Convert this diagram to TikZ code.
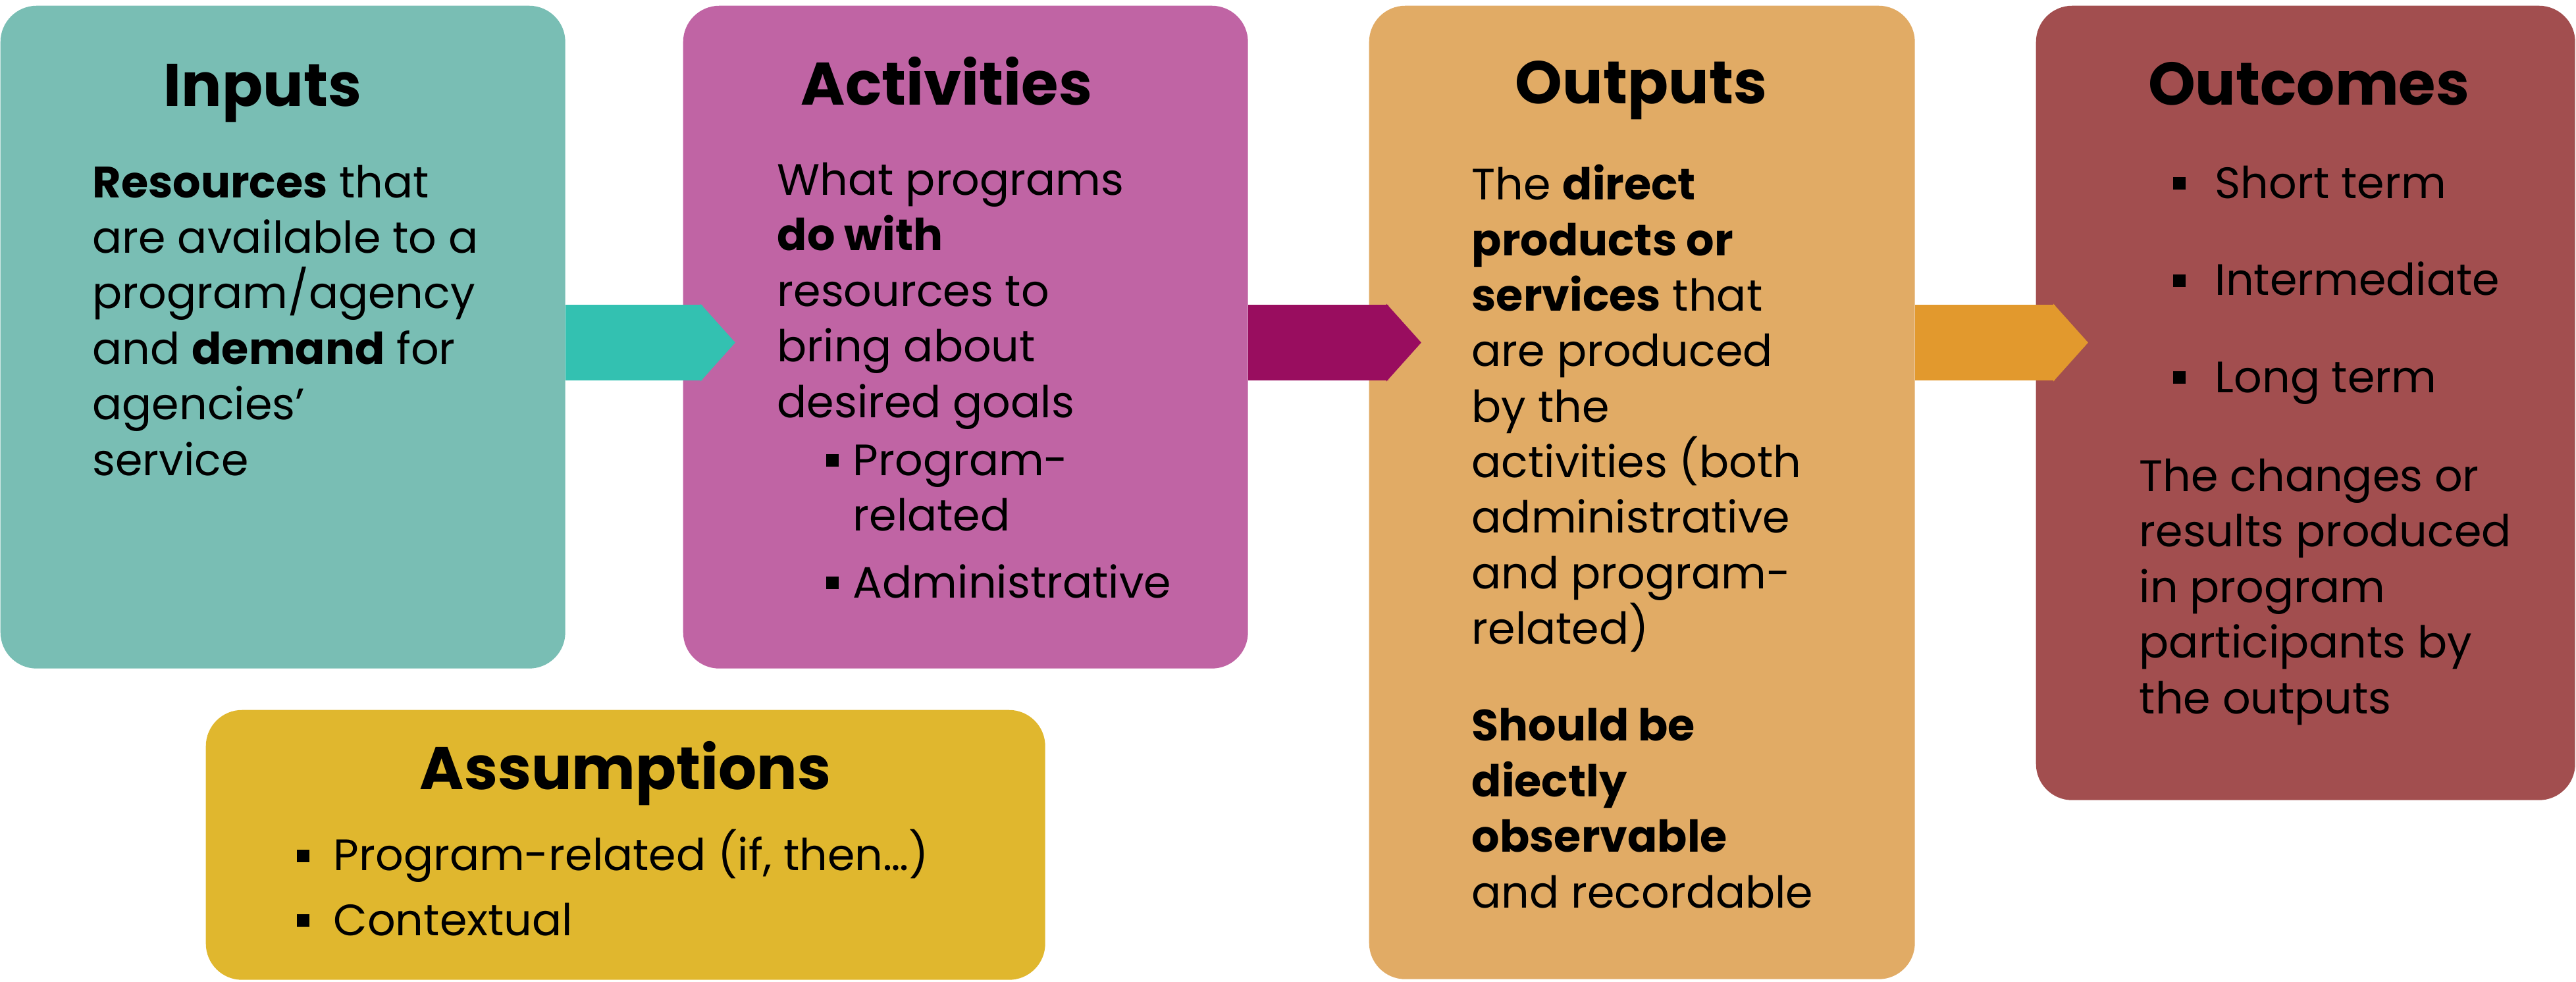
\documentclass[tikz,border=0pt]{standalone}
\usepackage{fontspec}
\setmainfont{Poppins}
\usetikzlibrary{arrows.meta}

\definecolor{inputcol}{HTML}{79BEB4}
\definecolor{inputarrow}{HTML}{33C1B1}
\definecolor{activitycol}{HTML}{C064A4}
\definecolor{activityarrow}{HTML}{990D5F}
\definecolor{outputcol}{HTML}{E1AB65}
\definecolor{outputarrow}{HTML}{E2992D}
\definecolor{outcomecol}{HTML}{A24E4F}
\definecolor{assumecol}{HTML}{E0B72E}

% small square bullet, #1 = room up to the text
\newcommand{\bul}[1][0.41cm]{\makebox[#1][l]{\raisebox{0.13cm}{\rule{0.19cm}{0.19cm}}}}

\begin{document}
\begin{tikzpicture}[
    box/.style = {rounded corners=0.55cm, inner sep=0, anchor=north west},
    heading/.style = {anchor=base, inner sep=0, font=\fontsize{26}{31}\selectfont\bfseries},
    body/.style = {anchor=base west, inner sep=0, align=left, font=\fontsize{19}{24}\selectfont},
    flow/.style = {line width=1.15cm, shorten >=-0.8cm, -{Triangle[length=0.53cm, width=1.15cm]}}
  ]
    \useasboundingbox (0,0) rectangle (39.13,-14.91);

    % Boxes
    \node[box, fill=inputcol, minimum width=8.58cm, minimum height=10.07cm] (inputs) at (0,-0.08) {};
    \node[box, fill=activitycol, minimum width=8.58cm, minimum height=10.07cm] (activities) at (10.37,-0.08) {};
    \node[box, fill=outputcol, minimum width=8.29cm, minimum height=14.79cm] (outputs) at (20.79,-0.08) {};
    \node[box, fill=outcomecol, minimum width=8.19cm, minimum height=12.07cm] (outcomes) at (30.92,-0.08) {};
    \node[box, fill=assumecol, minimum width=12.75cm, minimum height=4.10cm] (assumptions) at (3.12,-10.78) {};

    % Arrows
    \coordinate (row) at (0,-5.205);
    \draw[flow, inputarrow] (inputs.east |- row) -- (activities.west |- row);
    \draw[flow, activityarrow] (activities.east |- row) -- (outputs.west |- row);
    \draw[flow, outputarrow] (outputs.east |- row) -- (outcomes.west |- row);

    % Inputs (body texts sit on their last line)
    \node[heading] (inputs-head) at (3.99,-1.61) {Inputs};
    \node[body] (inputs-text) at (1.40,-7.22)
        {\textbf{Resources} that\\are available to a\\program/agency\\and \textbf{demand} for\\agencies’\\service};

    % Activities
    \node[heading] (activities-head) at (14.38,-1.59) {Activities};
    \node[body] (activities-text) at (11.80,-6.34)
        {What programs\\\textbf{do with}\\resources to\\bring about\\desired goals};
    \node[body] (activities-list) at (12.54,-9.08)
        {\bul Program-\\\hspace*{0.41cm}related\\[0.17cm]\bul Administrative};

    % Outputs
    \node[heading] (outputs-head) at (24.93,-1.57) {Outputs};
    \node[body] (outputs-text) at (22.35,-13.79)
        {The \textbf{direct}\\\textbf{products or}\\\textbf{services} that\\are produced\\by the\\activities (both\\administrative\\and program-\\related)\\[0.63cm]%
         \textbf{Should be}\\\textbf{diectly}\\\textbf{observable}\\and recordable};

    % Outcomes
    \node[heading] (outcomes-head) at (35.07,-1.59) {Outcomes};
    \node[body] (outcomes-list) at (33.00,-5.96)
        {\bul[0.64cm]Short term\\[0.63cm]\bul[0.64cm]Intermediate\\[0.63cm]\bul[0.64cm]Long term};
    \node[body] (outcomes-text) at (32.49,-10.84)
        {The changes or\\results produced\\in program\\participants by\\the outputs};

    % Assumptions
    \node[heading] (assumptions-head) at (9.50,-11.99) {Assumptions};
    \node[body] (assumptions-list) at (4.50,-14.21)
        {\bul[0.56cm]Program-related (if, then…)\\[0.14cm]\bul[0.56cm]Contextual};

\end{tikzpicture}
\end{document}
